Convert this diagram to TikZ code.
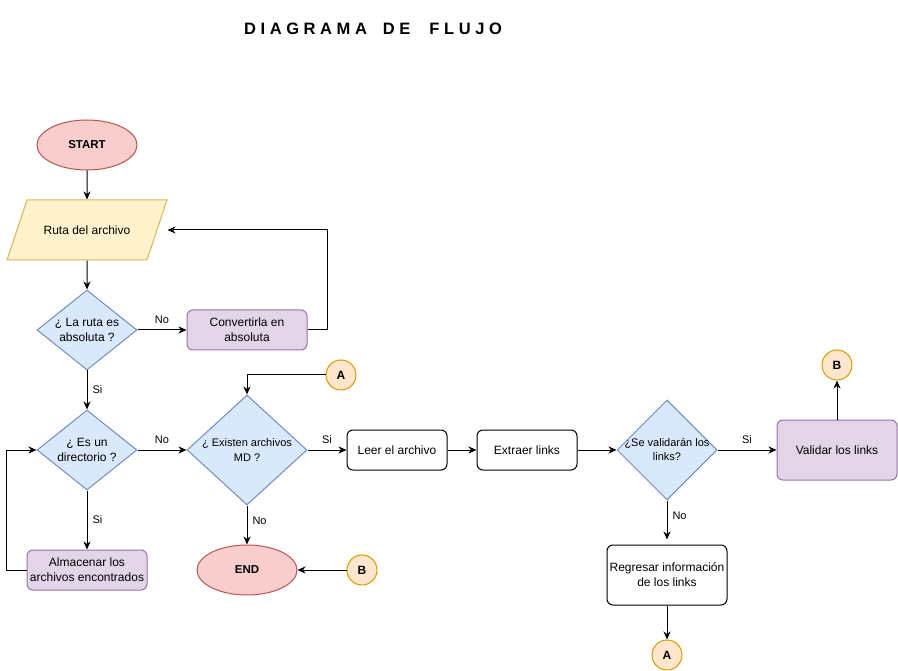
\documentclass[tikz,border=0pt]{standalone}
\usepackage{fontspec}
\setmainfont{Liberation Sans}
\usetikzlibrary{shapes.geometric,arrows.meta}
\definecolor{rojo}{HTML}{F8CECC}
\definecolor{rojoborde}{HTML}{B85450}
\definecolor{amarillo}{HTML}{FFF2CC}
\definecolor{amarilloborde}{HTML}{D6B656}
\definecolor{azul}{HTML}{DAE8FC}
\definecolor{azulborde}{HTML}{6C8EBF}
\definecolor{morado}{HTML}{E1D5E7}
\definecolor{moradoborde}{HTML}{9673A6}
\definecolor{naranja}{HTML}{FFE6CC}
\definecolor{naranjaborde}{HTML}{D79B00}

\begin{document}
\begin{tikzpicture}[x=1pt,y=-1pt,line width=1pt]
\tikzstyle{every node}=[font=\fontsize{12}{15}\selectfont, inner sep=0pt]
\tikzstyle{terminal}=[ellipse, draw=rojoborde, fill=rojo, minimum width=100pt, minimum height=50pt, font=\fontsize{11.5}{14}\selectfont\bfseries]
\tikzstyle{entrada}=[trapezium, trapezium left angle=71.57, trapezium right angle=108.43, trapezium stretches body, text height=8.5pt, text depth=0pt, inner ysep=25.75pt, draw=amarilloborde, fill=amarillo, minimum width=160pt]
\tikzstyle{decision}=[diamond, draw=azulborde, fill=azul, minimum width=100pt, minimum height=80pt]
\tikzstyle{proceso}=[rectangle, rounded corners=6pt, draw=black, fill=white, minimum width=100pt, minimum height=40pt, align=center]
\tikzstyle{tarea}=[proceso, draw=moradoborde, fill=morado, minimum width=120pt]
\tikzstyle{conector}=[circle, draw=naranjaborde, fill=naranja, minimum size=30pt, font=\fontsize{12}{14}\selectfont\bfseries]
\tikzstyle{flecha}=[-{Stealth[length=8pt,width=7pt,inset=2.5pt]}, line width=1pt]
\tikzstyle{etiqueta}=[font=\fontsize{11}{13}\selectfont]
\useasboundingbox (0,0) rectangle (898,671);

\node[font=\fontsize{16.5}{20}\selectfont\bfseries] (titulo) at (373,29) {D I A G R A M A\hspace{16pt}D E\hspace{19pt}F L U J O};

\node[terminal] (inicio) at (87,145) {START};
\node[entrada] (ruta) at (87,230) {Ruta del archivo};
\node[decision, label={[align=center]center:{¿ La ruta es\\absoluta ?}}] (absoluta) at (87,330) {};
\node[tarea] (convertir) at (247,330) {Convertirla en\\absoluta};
\node[decision, label={[align=center]center:{¿ Es un\\directorio ?}}] (directorio) at (87,450) {};
\node[tarea] (almacenar) at (87,570) {Almacenar los\\archivos encontrados};
\node[decision, minimum width=120pt, minimum height=110pt, label={[align=center, font=\fontsize{11}{15}\selectfont]center:{¿ Existen archivos\\MD ?}}] (existen) at (247,450) {};
\node[terminal] (fin) at (247,570) {END};
\node[conector] (a1) at (341,375) {A};
\node[conector] (b1) at (362,570) {B};
\node[proceso] (leer) at (397,450) {Leer el archivo};
\node[proceso] (extraer) at (527,450) {Extraer links};
\node[decision, minimum height=100pt, label={[align=center, font=\fontsize{11}{14}\selectfont]center:{¿Se validarán los\\links?}}] (sevalida) at (667,450) {};
\node[tarea, minimum height=60pt] (validar) at (837,450) {Validar los links};
\node[conector] (b2) at (837,365) {B};
\node[proceso, minimum width=120pt, minimum height=60pt] (regresar) at (667,575) {Regresar información\\de los links};
\node[conector] (a2) at (667,655) {A};

\draw[flecha] (inicio.south) -- (ruta.north);
\draw[flecha] (ruta.south) -- (absoluta.north);
\draw[flecha] (absoluta.east) -- node[etiqueta, above=6pt] {No} (convertir.west);
\draw[flecha] (convertir.east) -- ++(20,0) |- ([xshift=10pt]ruta.east);
\draw[flecha] (absoluta.south) -- node[etiqueta, right=5pt] {Si} (directorio.north);
\draw[flecha] (directorio.south) -- node[etiqueta, right=5pt] {Si} (almacenar.north);
\draw[flecha] (almacenar.west) -- ++(-20,0) |- (directorio.west);
\draw[flecha] (directorio.east) -- node[etiqueta, above=6pt] {No} (existen.west);
\draw[flecha] (a1.west) -| (existen.north);
\draw[flecha] (existen.south) -- node[etiqueta, right=5pt, pos=0.38] {No} (fin.north);
\draw[flecha] (b1.west) -- (fin.east);
\draw[flecha] (existen.east) -- node[etiqueta, above=6pt] {Si} (leer.west);
\draw[flecha] (leer.east) -- (extraer.west);
\draw[flecha] (extraer.east) -- (sevalida.west);
\draw[flecha] (sevalida.east) -- node[etiqueta, above=6pt] {Si} (validar.west);
\draw[flecha] (validar.north) -- (b2.south);
\draw[flecha] (sevalida.south) -- node[etiqueta, right=5pt, pos=0.4] {No} ([yshift=5pt]regresar.north);
\draw[flecha] (regresar.south) -- (a2.north);

\end{tikzpicture}
\end{document}
